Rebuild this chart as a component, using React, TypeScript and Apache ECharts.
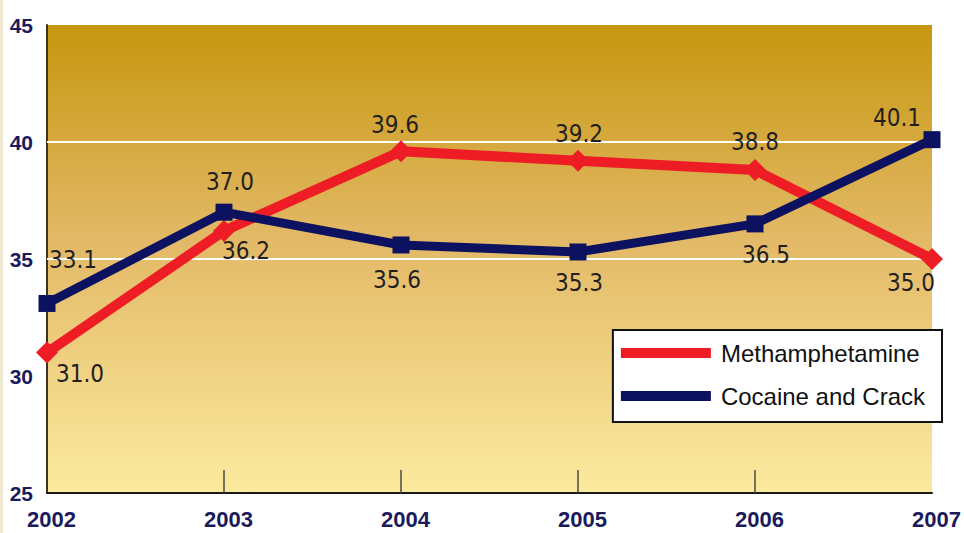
import React, { useEffect, useRef } from "react";
import * as echarts from "echarts";

const years = ["2002", "2003", "2004", "2005", "2006", "2007"];
const methValues = [31.0, 36.2, 39.6, 39.2, 38.8, 35.0];
const cocaineValues = [33.1, 37.0, 35.6, 35.3, 36.5, 40.1];
const methLabelOffsets = [[33, 21], [22, 20], [-6, -26], [1, -27], [0, -28], [-21, 24]];
const cocaineLabelOffsets = [[26, -43], [6, -30], [-4, 35], [1, 31], [11, 31], [-35, -22]];
const yTicks = { min: 25, max: 45, interval: 5 };
const gridValues = [35, 40];

export default function App() {
  const ref = useRef<HTMLDivElement>(null);
  useEffect(() => {
    if (!ref.current) return;
    const chart = echarts.init(ref.current, null, { renderer: "svg" });
    const labelFont = {
      fontFamily: "'Liberation Sans Narrow', 'DejaVu Sans Condensed', sans-serif",
      fontSize: 24,
      color: "#231f20",
    };
    const mkData = (vals: number[], offs: number[][]) =>
      vals.map((v, i) => ({
        value: v,
        label: { show: true, position: "inside", offset: offs[i], formatter: v.toFixed(1), ...labelFont },
      }));
    chart.setOption({
      animation: false,
      backgroundColor: "#ffffff",
      graphic: [
        { type: "rect", left: 0, top: 0, shape: { width: 3, height: 533 }, style: { fill: "#f1e8d2" }, silent: true },
      ],
      grid: {
        left: 47,
        top: 25,
        right: 32,
        bottom: 40,
        show: true,
        borderWidth: 0,
        backgroundColor: new echarts.graphic.LinearGradient(0, 0, 0, 1, [
          { offset: 0, color: "#c6970e" },
          { offset: 0.45, color: "#e2b865" },
          { offset: 1, color: "#fcea9f" },
        ]),
      },
      legend: {
        right: 22,
        top: 330,
        orient: "vertical",
        backgroundColor: "#ffffff",
        borderColor: "#111111",
        borderWidth: 2,
        borderRadius: 0,
        padding: [11, 17, 14, 8],
        itemGap: 19,
        itemWidth: 90,
        itemHeight: 10,
        icon: "rect",
        textStyle: {
          fontFamily: "Arial, 'Liberation Sans', sans-serif",
          fontSize: 24,
          lineHeight: 22,
          color: "#111111",
          padding: [0, 0, 0, 5],
        },
        data: ["Methamphetamine", "Cocaine and Crack"],
      },
      xAxis: {
        type: "category",
        data: years,
        boundaryGap: false,
        axisLine: { show: true, lineStyle: { color: "#1a1a1a", width: 2 } },
        axisTick: {
          show: true,
          inside: true,
          length: 23,
          interval: (i: number) => i > 0 && i < years.length - 1,
          lineStyle: { color: "#4a4a40", width: 1.5 },
        },
        axisLabel: {
          margin: 15,
          fontFamily: "Arial, 'Liberation Sans', sans-serif",
          fontWeight: "bold",
          fontSize: 22,
          color: "#1a1a5c",
          padding: [0, 0, 0, 9],
        },
        splitLine: { show: false },
      },
      yAxis: {
        type: "value",
        min: yTicks.min,
        max: yTicks.max,
        interval: yTicks.interval,
        axisLine: { show: true, lineStyle: { color: "#3d3320", width: 2 } },
        axisTick: { show: false },
        splitLine: { show: false },
        axisLabel: {
          margin: 14,
          fontFamily: "Arial, 'Liberation Sans', sans-serif",
          fontWeight: "bold",
          fontSize: 21,
          color: "#1a1a5c",
        },
      },
      series: [
        {
          name: "Methamphetamine",
          type: "line",
          z: 3,
          data: mkData(methValues, methLabelOffsets),
          lineStyle: { color: "#ee1c25", width: 10 },
          itemStyle: { color: "#ee1c25" },
          symbol: "diamond",
          symbolSize: 22,
          markLine: {
            silent: true,
            symbol: "none",
            label: { show: false },
            lineStyle: { color: "#ffffff", width: 2, type: "solid" },
            data: gridValues.map((v) => ({ yAxis: v })),
            z: 1,
          },
        },
        {
          name: "Cocaine and Crack",
          type: "line",
          z: 4,
          data: mkData(cocaineValues, cocaineLabelOffsets),
          lineStyle: { color: "#0d1260", width: 9 },
          itemStyle: { color: "#0d1260" },
          symbol: "rect",
          symbolSize: 17,
        },
      ],
    });
    return () => chart.dispose();
  }, []);
  return <div ref={ref} style={{ position: "absolute", left: 0, top: 0, width: 964, height: 533 }} />;
}
